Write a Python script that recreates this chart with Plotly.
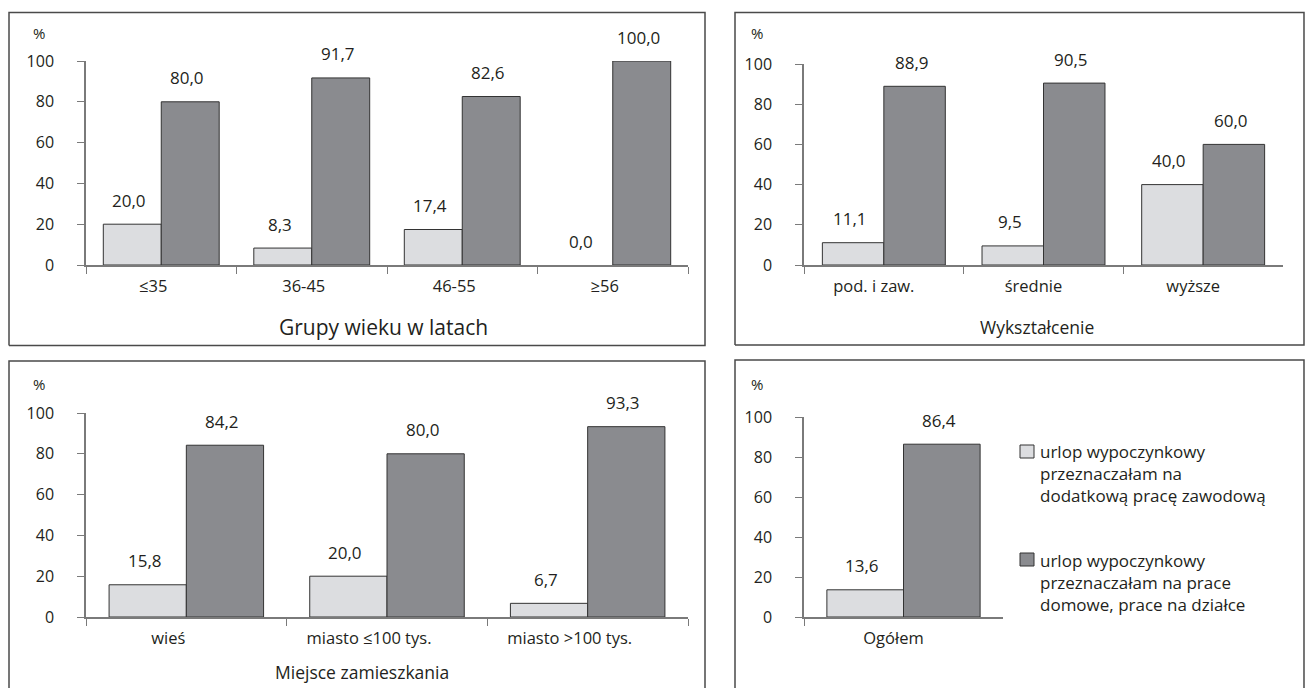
import plotly.graph_objects as go

# ---- data -------------------------------------------------------------
age_groups = ["≤35", "36-45", "46-55", "≥56"]
age_work = [20.0, 8.3, 17.4, 0.0]
age_home = [80.0, 91.7, 82.6, 100.0]

education = ["pod. i zaw.", "średnie", "wyższe"]
edu_work = [11.1, 9.5, 40.0]
edu_home = [88.9, 90.5, 60.0]

residence = ["wieś", "miasto ≤100 tys.", "miasto >100 tys."]
res_work = [15.8, 20.0, 6.7]
res_home = [84.2, 80.0, 93.3]

overall = ["Ogółem"]
all_work = [13.6]
all_home = [86.4]

series_names = [
    "urlop wypoczynkowy<br>przeznaczałam na<br>dodatkową pracę zawodową",
    "urlop wypoczynkowy<br>przeznaczałam na prace<br>domowe, prace na działce",
]
axis_titles = ["Grupy wieku w latach", "Wykształcenie", "Miejsce zamieszkania", ""]
y_ticks = [0, 20, 40, 60, 80, 100]

# ---- style ------------------------------------------------------------
W, H = 1305, 688
FONT = "Open Sans"
TXT = "#231f20"
LIGHT = "#dcdde0"
DARK = "#8a8b8f"
OUTLINE = "#333333"
AXIS = "#7a7a7a"
BORDER = "#4a4a4a"
BARGAP = 0.23


def px_x(x):
    return x / W


def px_y(y):
    return 1 - y / H


# panel geometry in pixels: axis span, (y of 0, y of 100), title centre, "%" spot
panels = [
    dict(cats=age_groups, work=age_work, home=age_home, x=(86, 688), y=(265, 61),
         title=axis_titles[0], title_xy=(383, 327), title_size=21, pct=(39, 33),
         shift=-8),
    dict(cats=education, work=edu_work, home=edu_home, x=(804, 1283), y=(265, 64),
         title=axis_titles[1], title_xy=(1037, 327), title_size=17.5, pct=(757, 33),
         shift=-10),
    dict(cats=residence, work=res_work, home=res_home, x=(86, 688), y=(617, 413),
         title=axis_titles[2], title_xy=(362, 672), title_size=17.5, pct=(39, 384),
         shift=-18),
    dict(cats=overall, work=all_work, home=all_home, x=(804, 1003), y=(617, 417),
         title=axis_titles[3], title_xy=(0, 0), title_size=17.5, pct=(757, 384),
         shift=-10),
]

fig = go.Figure()
annotations = []
layout_axes = {}


def fmt(v):
    return f"{v:.1f}".replace(".", ",")


def outline_widths(values):
    # a zero-height bar leaves no visible outline
    return [0 if v == 0 else 1 for v in values]


for i, p in enumerate(panels, start=1):
    sfx = "" if i == 1 else str(i)
    xa, ya = f"x{sfx}", f"y{sfx}"
    fig.add_trace(go.Bar(
        x=p["cats"], y=p["work"], name=series_names[0], xaxis=xa, yaxis=ya,
        marker=dict(color=LIGHT, line=dict(color=OUTLINE, width=outline_widths(p["work"]))),
        showlegend=False, hoverinfo="x+y",
    ))
    fig.add_trace(go.Bar(
        x=p["cats"], y=p["home"], name=series_names[1], xaxis=xa, yaxis=ya,
        marker=dict(color=DARK, line=dict(color=OUTLINE, width=outline_widths(p["home"]))),
        showlegend=False, hoverinfo="x+y",
    ))

    layout_axes[f"xaxis{sfx}"] = dict(
        domain=[px_x(p["x"][0]), px_x(p["x"][1])], anchor=ya, automargin=False,
        type="category", tickson="boundaries", ticks="outside", ticklen=7,
        tickwidth=1.3, tickcolor=AXIS, showline=True, linecolor=AXIS, linewidth=1.5,
        showgrid=False, zeroline=False, fixedrange=True,
        tickfont=dict(family=FONT, size=16.5, color=TXT), ticklabelstandoff=5,
        ticklabelshift=p["shift"],
    )
    layout_axes[f"yaxis{sfx}"] = dict(
        domain=[px_y(p["y"][0]), px_y(p["y"][1])], anchor=xa, automargin=False,
        range=[0, 100], tickvals=y_ticks, ticks="outside",
        ticklen=7, tickwidth=1.3, tickcolor=AXIS, showline=True, linecolor=AXIS,
        linewidth=1.5, showgrid=False, zeroline=False, fixedrange=True,
        tickfont=dict(family=FONT, size=16, color=TXT), ticklabelstandoff=20,
    )

    # value labels above each bar
    off = (1 - BARGAP) / 4
    for k, (vw, vh) in enumerate(zip(p["work"], p["home"])):
        for xv, v in ((k - off, vw), (k + off, vh)):
            annotations.append(dict(
                x=xv, y=v, xref=xa, yref=ya, text=fmt(v), showarrow=False,
                xanchor="center", yanchor="middle", yshift=24, xshift=-3,
                font=dict(family=FONT, size=17, color=TXT),
            ))

    # unit label
    annotations.append(dict(
        x=px_x(p["pct"][0]), y=px_y(p["pct"][1]), xref="paper", yref="paper",
        text="%", showarrow=False, xanchor="center", yanchor="middle",
        font=dict(family=FONT, size=15, color=TXT),
    ))
    # axis title
    if p["title"]:
        annotations.append(dict(
            x=px_x(p["title_xy"][0]), y=px_y(p["title_xy"][1]),
            xref="paper", yref="paper", text=p["title"], showarrow=False,
            xanchor="center", yanchor="middle",
            font=dict(family=FONT, size=p["title_size"], color=TXT),
        ))

# legend drawn beside the overall panel
legend_items = [(LIGHT, 445, 473), (DARK, 553, 582)]
shapes = []
for (col, sq_top, txt_mid), name in zip(legend_items, series_names):
    shapes.append(dict(
        type="rect", xref="paper", yref="paper",
        x0=px_x(1020), x1=px_x(1034), y0=px_y(sq_top + 13), y1=px_y(sq_top),
        fillcolor=col, line=dict(color=OUTLINE, width=1),
    ))
    annotations.append(dict(
        x=px_x(1038), y=px_y(txt_mid), xref="paper", yref="paper", text=name,
        showarrow=False, xanchor="left", yanchor="middle", align="left",
        font=dict(family=FONT, size=17, color=TXT),
    ))

# panel frames
frames = [
    (9, 705, 12.5, 345.5, True),
    (735, 1304, 12.5, 345, True),
    (9, 705, 361, 700, False),
    (735, 1304, 360, 700, False),
]
for x0, x1, y0, y1, closed in frames:
    pts = [(x0, y1), (x0, y0), (x1, y0), (x1, y1)]
    if closed:
        pts.append((x0, y1))
    path = "M " + " L ".join(f"{px_x(a):.5f},{px_y(b):.5f}" for a, b in pts)
    shapes.append(dict(type="path", xref="paper", yref="paper", path=path,
                       line=dict(color=BORDER, width=1.5)))

fig.update_layout(
    width=W, height=H, margin=dict(l=0, r=0, t=0, b=0, pad=0, autoexpand=False),
    paper_bgcolor="white", plot_bgcolor="white",
    barmode="group", bargap=BARGAP, bargroupgap=0,
    font=dict(family=FONT, color=TXT),
    annotations=annotations, shapes=shapes, showlegend=False,
    **layout_axes,
)

fig.write_html("out.html")
